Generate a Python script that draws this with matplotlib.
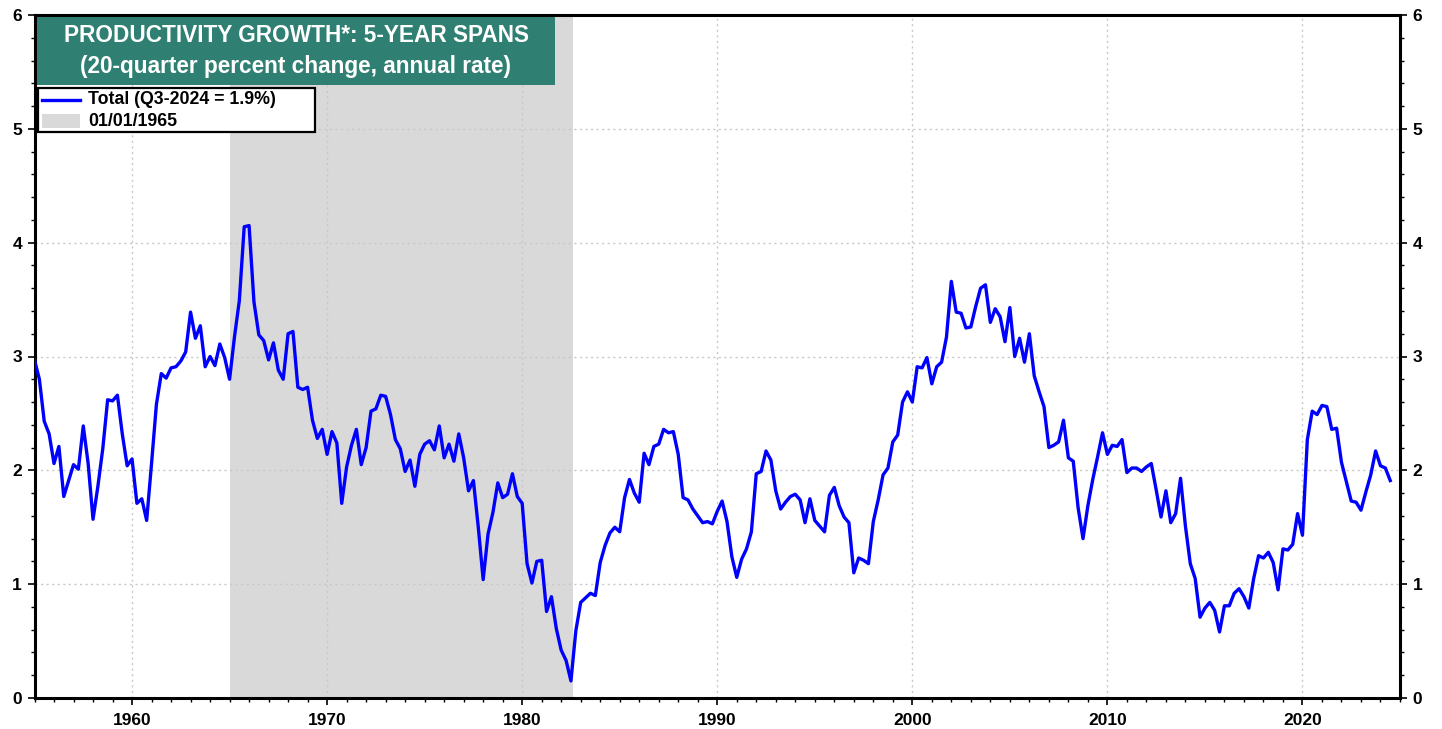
import numpy as np
import matplotlib
matplotlib.use("Agg")
import matplotlib.pyplot as plt
from matplotlib.lines import Line2D
from matplotlib.patches import Rectangle
from matplotlib.ticker import MultipleLocator

# ---- data: quarterly, 1955Q1 .. 2024Q3 (20-quarter % change, annual rate) ----
start_year = 1955
productivity = [
    2.97, 2.80, 2.43, 2.32,  # 1955
    2.06, 2.21, 1.77, 1.91,  # 1956
    2.05, 2.01, 2.39, 2.06,  # 1957
    1.57, 1.86, 2.19, 2.62,  # 1958
    2.61, 2.66, 2.32, 2.04,  # 1959
    2.10, 1.71, 1.75, 1.56,  # 1960
    2.06, 2.58, 2.85, 2.81,  # 1961
    2.90, 2.91, 2.96, 3.04,  # 1962
    3.39, 3.16, 3.27, 2.91,  # 1963
    3.00, 2.92, 3.11, 2.99,  # 1964
    2.80, 3.17, 3.49, 4.14,  # 1965
    4.15, 3.48, 3.19, 3.14,  # 1966
    2.97, 3.12, 2.88, 2.80,  # 1967
    3.20, 3.22, 2.73, 2.71,  # 1968
    2.73, 2.44, 2.28, 2.36,  # 1969
    2.14, 2.34, 2.24, 1.71,  # 1970
    2.03, 2.22, 2.36, 2.05,  # 1971
    2.20, 2.52, 2.54, 2.66,  # 1972
    2.65, 2.49, 2.27, 2.19,  # 1973
    1.99, 2.09, 1.86, 2.14,  # 1974
    2.23, 2.26, 2.18, 2.39,  # 1975
    2.11, 2.23, 2.08, 2.32,  # 1976
    2.11, 1.82, 1.91, 1.50,  # 1977
    1.04, 1.44, 1.63, 1.89,  # 1978
    1.76, 1.79, 1.97, 1.77,  # 1979
    1.71, 1.18, 1.01, 1.20,  # 1980
    1.21, 0.76, 0.89, 0.61,  # 1981
    0.42, 0.33, 0.15, 0.59,  # 1982
    0.84, 0.88, 0.92, 0.90,  # 1983
    1.19, 1.34, 1.45, 1.50,  # 1984
    1.46, 1.76, 1.92, 1.80,  # 1985
    1.72, 2.15, 2.05, 2.21,  # 1986
    2.23, 2.36, 2.33, 2.34,  # 1987
    2.14, 1.76, 1.74, 1.66,  # 1988
    1.60, 1.54, 1.55, 1.53,  # 1989
    1.64, 1.73, 1.55, 1.24,  # 1990
    1.06, 1.22, 1.31, 1.46,  # 1991
    1.97, 1.99, 2.17, 2.09,  # 1992
    1.82, 1.66, 1.72, 1.77,  # 1993
    1.79, 1.74, 1.54, 1.75,  # 1994
    1.56, 1.51, 1.46, 1.78,  # 1995
    1.85, 1.69, 1.59, 1.54,  # 1996
    1.10, 1.23, 1.21, 1.18,  # 1997
    1.55, 1.74, 1.96, 2.02,  # 1998
    2.25, 2.31, 2.60, 2.69,  # 1999
    2.60, 2.91, 2.90, 2.99,  # 2000
    2.76, 2.91, 2.95, 3.17,  # 2001
    3.66, 3.39, 3.38, 3.25,  # 2002
    3.26, 3.44, 3.60, 3.63,  # 2003
    3.30, 3.42, 3.35, 3.13,  # 2004
    3.43, 3.00, 3.16, 2.95,  # 2005
    3.20, 2.83, 2.69, 2.56,  # 2006
    2.20, 2.22, 2.25, 2.44,  # 2007
    2.11, 2.08, 1.67, 1.40,  # 2008
    1.69, 1.92, 2.12, 2.33,  # 2009
    2.14, 2.22, 2.21, 2.27,  # 2010
    1.98, 2.02, 2.02, 1.99,  # 2011
    2.03, 2.06, 1.83, 1.59,  # 2012
    1.82, 1.54, 1.62, 1.93,  # 2013
    1.51, 1.18, 1.05, 0.71,  # 2014
    0.79, 0.84, 0.77, 0.58,  # 2015
    0.81, 0.81, 0.92, 0.96,  # 2016
    0.89, 0.79, 1.05, 1.25,  # 2017
    1.23, 1.28, 1.19, 0.95,  # 2018
    1.31, 1.30, 1.35, 1.62,  # 2019
    1.43, 2.27, 2.52, 2.49,  # 2020
    2.57, 2.56, 2.36, 2.37,  # 2021
    2.07, 1.90, 1.73, 1.72,  # 2022
    1.65, 1.81, 1.96, 2.17,  # 2023
    2.04, 2.02, 1.91,        # 2024
]
shade_span = [1965.0, 1982.58]
x_limits = [1955.0, 2025.0]
y_limits = [0, 6]
x_major_ticks = [1960, 1970, 1980, 1990, 2000, 2010, 2020]
title_lines = ["PRODUCTIVITY GROWTH*: 5-YEAR SPANS",
               "(20-quarter percent change, annual rate)"]
legend_labels = ["Total (Q3-2024 = 1.9%)", "01/01/1965"]

years = start_year + np.arange(len(productivity)) / 4.0

LINE_COLOR = '#0000ff'
SHADE_COLOR = '#d9d9d9'

# ---- figure ----
plt.rcParams['font.family'] = ['Liberation Sans', 'DejaVu Sans']
W, H = 1442, 729
fig = plt.figure(figsize=(W / 100, H / 100), dpi=100)
ax = fig.add_axes([34.5 / W, 1 - 698 / H, (1400 - 34.5) / W, (698 - 15) / H])

ax.axvspan(shade_span[0], shade_span[1], color=SHADE_COLOR, lw=0, zorder=0)
ax.plot(years, productivity, color=LINE_COLOR, lw=2.4, zorder=3,
        solid_joinstyle='round')

ax.set_xlim(*x_limits)
ax.set_ylim(*y_limits)
ax.set_xticks(x_major_ticks)
ax.xaxis.set_minor_locator(MultipleLocator(1))
ax.yaxis.set_major_locator(MultipleLocator(1))
ax.yaxis.set_minor_locator(MultipleLocator(0.2))
ax.grid(True, which='major', color='#c8c8c8', ls=(0, (1.5, 2.5)), lw=1.0, zorder=1)

for s in ax.spines.values():
    s.set_linewidth(2.2)
    s.set_color('black')

ax.tick_params(axis='both', which='major', direction='out', length=5, width=1.2,
               labelsize=12.5, colors='black')
ax.tick_params(axis='both', which='minor', direction='out', length=3, width=1.0)
ax.tick_params(axis='y', which='both', left=True, right=True,
               labelleft=True, labelright=True, pad=4)
ax.tick_params(axis='x', which='both', top=False, pad=6)
for t in ax.yaxis.get_major_ticks():
    t.label1.set_fontweight('bold')
    t.label2.set_fontweight('bold')
for t in ax.xaxis.get_major_ticks():
    t.label1.set_fontweight('bold')

# ---- title box ----
def fx(px):
    return px / W

def fy(py):
    return 1 - py / H

box = Rectangle((fx(37), fy(85)), fx(555) - fx(37), fy(17) - fy(85),
                transform=fig.transFigure, facecolor='#2f7f72', edgecolor='none',
                zorder=5)
fig.patches.append(box)
cx = fx((37 + 555) / 2)
fig.text(cx, fy(36), title_lines[0], ha='center', va='center', color='white',
         fontsize=16.3, fontweight='bold', zorder=6)
fig.text(cx, fy(67), title_lines[1], ha='center', va='center', color='white',
         fontsize=16.3, fontweight='bold', zorder=6)

# ---- legend (drawn manually to match the boxed layout) ----
leg_box = Rectangle((fx(38), fy(132)), fx(315) - fx(38), fy(88) - fy(132),
                    transform=fig.transFigure, facecolor='white',
                    edgecolor='black', lw=1.6, zorder=5)
fig.patches.append(leg_box)
fig.lines.append(Line2D([fx(42), fx(80)], [fy(100), fy(100)],
                        transform=fig.transFigure, color=LINE_COLOR, lw=2.4,
                        zorder=6))
fig.patches.append(Rectangle((fx(42), fy(128)), fx(80) - fx(42), fy(114) - fy(128),
                             transform=fig.transFigure, facecolor=SHADE_COLOR,
                             edgecolor='none', zorder=6))
fig.text(fx(88), fy(100), legend_labels[0], ha='left', va='center',
         fontsize=12.8, fontweight='bold', color='black', zorder=7)
fig.text(fx(88), fy(121), legend_labels[1], ha='left', va='center',
         fontsize=12.8, fontweight='bold', color='black', zorder=7)

fig.savefig('out.png', dpi=100)
